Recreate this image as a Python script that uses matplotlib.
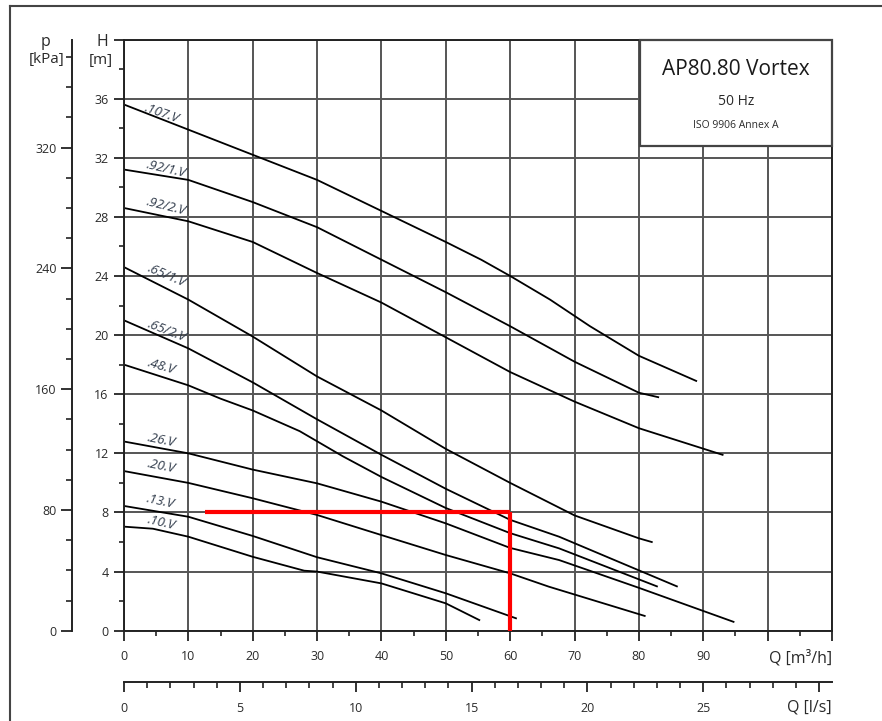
import matplotlib
matplotlib.use("Agg")
import matplotlib.pyplot as plt
from matplotlib.patches import Rectangle
from matplotlib.lines import Line2D

plt.rcParams['font.family'] = ['Open Sans', 'DejaVu Sans']

# pump curves: Q [m3/h] -> H [m]
q_107 = [0, 10, 20, 30, 40, 50, 55.5, 60, 66.2, 72.4, 80, 88.9]
h_107 = [35.6, 33.9, 32.2, 30.5, 28.4, 26.3, 25.1, 24.0, 22.4, 20.6, 18.6, 16.9]
q_921 = [0, 10, 20, 30, 40, 50, 60, 70, 80, 83]
h_921 = [31.2, 30.5, 29.0, 27.3, 25.1, 22.9, 20.6, 18.2, 16.1, 15.8]
q_922 = [0, 10, 20, 30, 40, 50, 60, 70, 80, 93]
h_922 = [28.6, 27.7, 26.3, 24.2, 22.2, 19.85, 17.5, 15.5, 13.7, 11.9]
q_651 = [0, 10, 20, 30, 40, 50, 60, 70, 80, 82]
h_651 = [24.6, 22.4, 19.9, 17.2, 14.9, 12.3, 10.0, 7.8, 6.25, 6.0]
q_652 = [0, 10, 20, 30, 40, 50, 60, 67.6, 75, 85.9]
h_652 = [21.0, 19.1, 16.8, 14.3, 11.9, 9.6, 7.5, 6.36, 5.0, 3.0]
q_48 = [0, 10, 15, 20, 27.3, 34, 40, 50, 60, 67.6, 82.8]
h_48 = [18.0, 16.6, 15.7, 14.9, 13.5, 11.8, 10.4, 8.3, 6.6, 5.57, 3.0]
q_26 = [0, 10, 20, 30, 40, 50, 60, 67.6, 80, 94.7]
h_26 = [12.8, 12.0, 10.9, 9.97, 8.73, 7.26, 5.6, 4.78, 2.9, 0.6]
q_20 = [0, 10, 20, 30, 40, 50, 60, 66, 80.9]
h_20 = [10.8, 10.0, 8.96, 7.83, 6.47, 5.12, 3.88, 2.98, 1.0]
q_13 = [0, 10, 20, 30, 40, 50, 60.9]
h_13 = [8.44, 7.71, 6.41, 4.97, 3.88, 2.53, 0.84]
q_10 = [0, 4.5, 10, 20, 28, 30, 40, 50, 55.2]
h_10 = [7.04, 6.9, 6.36, 5.0, 4.06, 4.0, 3.2, 1.85, 0.72]

names = ['.107.V', '.92/1.V', '.92/2.V', '.65/1.V', '.65/2.V',
         '.48.V', '.26.V', '.20.V', '.13.V', '.10.V']
curves = [(q_107, h_107), (q_921, h_921), (q_922, h_922), (q_651, h_651),
          (q_652, h_652), (q_48, h_48), (q_26, h_26), (q_20, h_20),
          (q_13, h_13), (q_10, h_10)]
label_q = [5.8, 6.6, 6.6, 6.6, 6.6, 5.8, 5.8, 5.8, 5.6, 5.8]
label_h = [35.0, 31.2, 28.7, 24.0, 20.3, 17.9, 12.9, 11.1, 8.73, 7.27]
label_rot = [-19, -13, -14, -23, -21, -16, -11, -11, -12, -13]

# duty point lines (red)
duty_q = 60
duty_h = 8
duty_q_start = 12.6

Q_MAX = 110
H_MAX = 40
RHO_G = 9.79   # kPa per m

fig = plt.figure(figsize=(8.82, 7.21), dpi=100)


def fx(px):
    return px / 882


def fy(py):
    return 1 - py / 721


txt = '#2a2a2a'
grid_c = '#555555'

# main chart
ax = fig.add_axes([fx(124), fy(630.7), fx(832) - fx(124), fy(39.5) - fy(630.7)])
ax.set_xlim(0, Q_MAX)
ax.set_ylim(0, H_MAX)
ax.set_axisbelow(True)
ax.set_xticks(range(0, Q_MAX + 1, 10))
ax.set_xticklabels([str(v) if v <= 90 else '' for v in range(0, Q_MAX + 1, 10)])
ax.set_xticks(range(5, Q_MAX, 10), minor=True)
ax.set_yticks(range(0, H_MAX + 1, 4))
ax.set_yticklabels([str(v) if v < 40 else 'H' for v in range(0, H_MAX + 1, 4)])
ax.set_yticks(range(2, H_MAX, 4), minor=True)
ax.grid(True, which='major', color=grid_c, lw=1.4)
ax.tick_params(which='major', length=7, width=1.3, color='#222', labelsize=9,
               labelcolor=txt, pad=4)
ax.tick_params(axis='x', which='major', pad=7)
ax.tick_params(which='minor', length=3.5, width=1.2, color='#222')
for s in ax.spines.values():
    s.set_color('#222')
    s.set_linewidth(1.4)
for lab in ax.get_yticklabels():
    if lab.get_text() == 'H':
        lab.set_fontsize(11.5)
ax.text(-1.7, 38.6, '[m]', ha='right', va='center', fontsize=11, color=txt,
        clip_on=False)

for (q, h) in curves:
    ax.plot(q, h, color='black', lw=1.3, zorder=2)
for name, lq, lh, rot in zip(names, label_q, label_h, label_rot):
    ax.text(lq, lh, name, fontsize=9.5, style='italic', color='#2f3a4a',
            ha='center', va='center', rotation=rot, zorder=3)

ax.plot([duty_q_start, duty_q], [duty_h, duty_h], color='#ff0000', lw=3,
        solid_capstyle='butt', zorder=4)
ax.plot([duty_q, duty_q], [duty_h, 0], color='#ff0000', lw=3,
        solid_capstyle='butt', zorder=4)

# title box
ax.add_patch(Rectangle((80.2, 32.8), Q_MAX - 80.2, H_MAX - 32.8, facecolor='white',
                       edgecolor='#444', lw=1.6, zorder=5, clip_on=False))
ax.text(95.1, 37.95, 'AP80.80 Vortex', fontsize=15, ha='center', va='center',
        color='#1a1a1a', zorder=6)
ax.text(95.1, 35.8, '50 Hz', fontsize=10, ha='center', va='center', color=txt, zorder=6)
ax.text(95.1, 34.2, 'ISO 9906 Annex A', fontsize=7.5, ha='center', va='center',
        color=txt, zorder=6)

ax.text(Q_MAX, -1.85, 'Q [m³/h]', fontsize=11.5, ha='right', va='center', color=txt,
        clip_on=False)

# pressure axis
axp = fig.add_axes([fx(72), fy(630.7), 0.0001, fy(39.5) - fy(630.7)])
axp.set_ylim(0, H_MAX * RHO_G)
axp.set_xticks([])
axp.set_yticks([0, 80, 160, 240, 320])
axp.set_yticks(range(20, 391, 20), minor=True)
for k in ['top', 'right', 'bottom']:
    axp.spines[k].set_visible(False)
axp.spines['left'].set_color('#222')
axp.spines['left'].set_linewidth(1.4)
axp.patch.set_visible(False)
axp.tick_params(which='major', length=8, width=1.3, color='#222', labelsize=9,
                labelcolor=txt, pad=3)
axp.tick_params(which='minor', length=4, width=1.2, color='#222')
fig.text(fx(64), fy(60), '[kPa]', ha='right', va='center', fontsize=11, color=txt)
fig.text(fx(45), fy(42), 'p', ha='center', va='center', fontsize=11.5, color=txt)

# flow axis in l/s
axq = fig.add_axes([fx(124), fy(682), fx(832) - fx(124), 0.0001])
axq.set_xlim(0, Q_MAX / 3.6)
axq.set_yticks([])
axq.set_xticks(range(0, 31, 5))
axq.set_xticklabels([str(v) if v < 30 else '' for v in range(0, 31, 5)])
axq.set_xticks(range(0, 31, 1), minor=True)
for k in ['top', 'right', 'left']:
    axq.spines[k].set_visible(False)
axq.spines['bottom'].set_color('#222')
axq.spines['bottom'].set_linewidth(1.4)
axq.patch.set_visible(False)
axq.tick_params(which='major', length=7.5, width=1.3, color='#222', labelsize=9,
                labelcolor=txt, pad=7)
axq.tick_params(which='minor', length=4, width=1.2, color='#222')
fig.text(fx(832), fy(707), 'Q [l/s]', ha='right', va='center', fontsize=11.5, color=txt)

# page border
fig.add_artist(Line2D([fx(10), fx(10)], [fy(6), 0], color='#444', lw=1.5))
fig.add_artist(Line2D([fx(10), 1], [fy(6), fy(6)], color='#444', lw=1.5))

fig.savefig('out.png', dpi=100)
